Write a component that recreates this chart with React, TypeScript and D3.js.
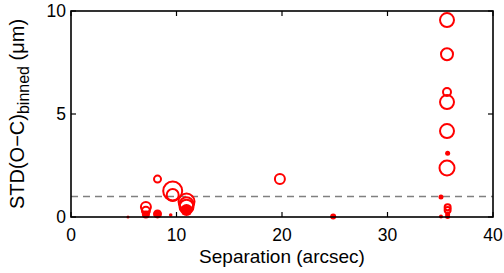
import React from "react";
import * as d3 from "d3";

// Data
const separation = [5.4, 7.1, 7.1, 7.1, 8.2, 8.2, 9.45, 9.64, 9.64, 10.95, 10.95, 10.95, 10.95, 19.8, 24.85,
  35.64, 35.64, 35.64, 35.64, 35.64, 35.7, 35.64, 35.07, 35.7, 35.7, 35.7, 35.07, 35.7];
const stdBinned = [0.0, 0.48, 0.3, 0.12, 1.84, 0.15, 0.1, 1.26, 1.07, 0.75, 0.62, 0.5, 0.34, 1.85, 0.02,
  9.56, 7.9, 6.07, 5.58, 4.17, 3.1, 2.38, 0.97, 0.47, 0.34, 0.15, 0.03, 0.02];
const weight = [1.5, 5, 4, 4, 3.5, 4.5, 1.8, 9.5, 6, 8, 7, 7, 6, 5, 3,
  7, 6, 4, 7, 7, 2.5, 7.5, 2.5, 3, 3, 2.5, 2, 2.5];
const filled = [1, 0, 0, 1, 0, 1, 1, 0, 0, 0, 0, 0, 1, 0, 1,
  0, 0, 0, 0, 0, 1, 0, 1, 0, 0, 1, 1, 1];
const xTicks = [0, 10, 20, 30, 40];
const yTicks = [0, 5, 10];
const threshold = 1;

const W = 504, H = 273;
const M = { left: 71, right: 11, top: 11, bottom: 56 };

export default function App() {
  const x = d3.scaleLinear().domain([0, 40]).range([M.left, W - M.right]);
  const y = d3.scaleLinear().domain([0, 10]).range([H - M.bottom, M.top]);
  const r = d3.scaleLinear().domain([0, 10]).range([0, 10]);
  const font = "'Liberation Sans', Arial, Helvetica, sans-serif";
  const tickLen = 5;
  const x0 = M.left, x1 = W - M.right, y0 = H - M.bottom, y1 = M.top;
  return (
    <svg width={W} height={H} style={{ position: "absolute", left: 0, top: 0, background: "#fff" }}
      fontFamily={font}>
      <rect x={0} y={0} width={W} height={H} fill="#fff" />
      {/* dashed threshold */}
      <line x1={x0} x2={x1} y1={y(threshold)} y2={y(threshold)} stroke="#808080" strokeWidth={1.5}
        strokeDasharray="7,5" />
      {/* points */}
      {separation.map((s, i) => (
        <circle key={i} cx={x(s)} cy={y(stdBinned[i])} r={r(weight[i])}
          fill={filled[i] ? "#ff0000" : "none"} stroke="#ff0000" strokeWidth={filled[i] ? 0 : 2} />
      ))}
      {/* box */}
      <rect x={x0} y={y1} width={x1 - x0} height={y0 - y1} fill="none" stroke="#000" strokeWidth={1.6} />
      {xTicks.map((t) => (
        <g key={"x" + t}>
          <line x1={x(t)} x2={x(t)} y1={y0} y2={y0 - tickLen} stroke="#000" strokeWidth={1.2} />
          <line x1={x(t)} x2={x(t)} y1={y1} y2={y1 + tickLen} stroke="#000" strokeWidth={1.2} />
          <text x={x(t)} y={241} fontSize={17.5} textAnchor="middle" fill="#000">{t}</text>
        </g>
      ))}
      {yTicks.map((t) => (
        <g key={"y" + t}>
          <line x1={x0} x2={x0 + tickLen} y1={y(t)} y2={y(t)} stroke="#000" strokeWidth={1.2} />
          <line x1={x1} x2={x1 - tickLen} y1={y(t)} y2={y(t)} stroke="#000" strokeWidth={1.2} />
          <text x={66} y={y(t)} dy="0.36em" fontSize={17.5} textAnchor="end" fill="#000">{t}</text>
        </g>
      ))}
      <text x={(x0 + x1) / 2} y={263} fontSize={19} textAnchor="middle" fill="#000">Separation (arcsec)</text>
      <text transform={`translate(24,${(y0 + y1) / 2}) rotate(-90)`} fontSize={20} textAnchor="middle" fill="#000">
        <tspan>STD(O−C)</tspan>
        <tspan fontSize={16} dy={5}>binned</tspan>
        <tspan dy={-5}> (μm)</tspan>
      </text>
    </svg>
  );
}
